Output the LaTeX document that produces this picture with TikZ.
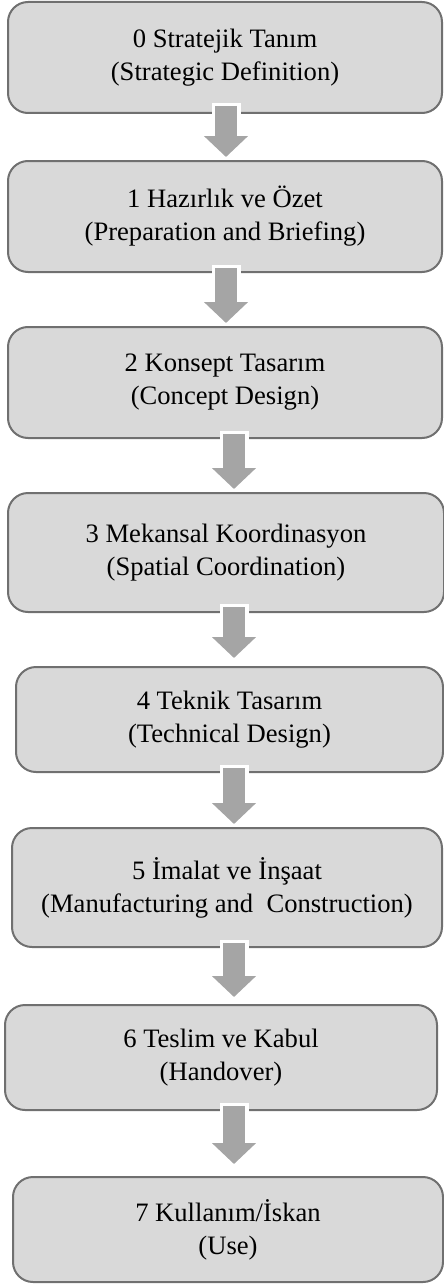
\documentclass[tikz,border=0pt]{standalone}
\usepackage{fontspec}
\setmainfont{Liberation Serif}
\usepackage{xcolor}
\usetikzlibrary{calc,arrows.meta}

\definecolor{stagefill}{RGB}{217,217,217}
\definecolor{stageline}{RGB}{112,112,112}
\definecolor{arrowfill}{RGB}{165,165,165}

\tikzset{
    stage/.style={draw=stageline, fill=stagefill, line width=1pt, rounded corners=10pt,
        align=center, inner sep=0pt, font=\fontsize{13.3}{16.5}\selectfont},
    stagearrow/.style={arrowfill, line width=11pt, -{Triangle[width=21.5pt,length=10.5pt]},
        preaction={draw=white, line width=14.5pt, -, shorten <=-1.5pt, shorten >=11pt}}
}

\begin{document}
\begin{tikzpicture}[x=0.5pt, y=-0.5pt]
        \useasboundingbox (0,0) rectangle (444,1284);
        \coordinate (axisA) at (226,0);
        \coordinate (axisB) at (234,0);

        % Strategic Definition
        \node[stage, minimum width=217pt, minimum height=55.5pt] (stage0) at (225,57.5)
            {0 Stratejik Tanım\\(Strategic Definition)};
        % Preparation and Briefing
        \node[stage, minimum width=217pt, minimum height=55.5pt] (stage1) at (225,216.5)
            {1 Hazırlık ve Özet\\(Preparation and Briefing)};
        % Concept Design
        \node[stage, minimum width=217pt, minimum height=55.5pt] (stage2) at (225,382.5)
            {2 Konsept Tasarım\\(Concept Design)};
        % Spatial Coordination
        \node[stage, minimum width=218pt, minimum height=59.5pt] (stage3) at (226,552.5)
            {3 Mekansal Koordinasyon\\(Spatial Coordination)};
        % Technical Design
        \node[stage, minimum width=213.5pt, minimum height=52.5pt] (stage4) at (229.5,719.5)
            {4 Teknik Tasarım\\(Technical Design)};
        % Manufacturing and Construction
        \node[stage, minimum width=215pt, minimum height=59.5pt] (stage5) at (227,887.5)
            {5 İmalat ve İnşaat\\(Manufacturing and\ \ Construction)};
        % Handover
        \node[stage, minimum width=216pt, minimum height=52.5pt] (stage6) at (221,1057.5)
            {6 Teslim ve Kabul\\(Handover)};
        % Use
        \node[stage, minimum width=215pt, minimum height=52.5pt] (stage7) at (228,1229.5)
            {7 Kullanım/İskan\\(Use)};

        % flow between stages
        \draw[stagearrow] ($(stage0.south -| axisA)+(0,-8)$) -- ($(stage1.north -| axisA)+(0,-3)$);
        \draw[stagearrow] ($(stage1.south -| axisA)+(0,-5)$) -- ($(stage2.north -| axisA)+(0,-3)$);
        \draw[stagearrow] ($(stage2.south -| axisB)+(0,-5)$) -- ($(stage3.north -| axisB)+(0,-3)$);
        \draw[stagearrow] ($(stage3.south -| axisB)+(0,-6)$) -- ($(stage4.north -| axisB)+(0,-8)$);
        \draw[stagearrow] ($(stage4.south -| axisB)+(0,-5)$) -- ($(stage5.north -| axisB)+(0,-3)$);
        \draw[stagearrow] ($(stage5.south -| axisB)+(0,-5)$) -- ($(stage6.north -| axisB)+(0,-7)$);
        \draw[stagearrow] ($(stage6.south -| axisB)+(0,-5)$) -- ($(stage7.north -| axisB)+(0,-12)$);
    \end{tikzpicture}
\end{document}
